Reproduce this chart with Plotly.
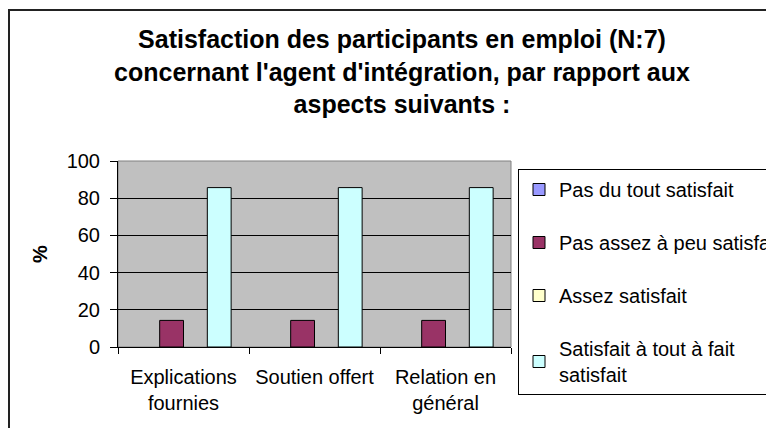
import plotly.graph_objects as go

categories = ["Explications<br>fournies", "Soutien offert", "Relation en<br>général"]
series_names = ["Pas du tout satisfait", "Pas assez à peu satisfait", "Assez satisfait",
                "Satisfait à tout à fait<br>satisfait"]
pas_du_tout = [None, None, None]
pas_assez = [14.3, 14.3, 14.3]
assez = [None, None, None]
satisfait = [85.7, 85.7, 85.7]
colors = ["#9999FF", "#993366", "#FFFFCC", "#CCFFFF"]
y_ticks = [0, 20, 40, 60, 80, 100]

FONT = "Liberation Sans, Arial, sans-serif"

# the page body has an 8px margin, so the figure is drawn 8px smaller and offset
OFF = 8
W, H = 774 - OFF, 428 - OFF

fig = go.Figure()
for i, (name, vals) in enumerate(zip(series_names, [pas_du_tout, pas_assez, assez, satisfait])):
    fig.add_trace(go.Bar(
        x=categories, y=vals, name=name, legendgroup=str(i),
        marker=dict(color=colors[i], line=dict(color="black", width=1)),
    ))

# plot area in screen pixels
sx0, sx1, sy0, sy1 = 118, 511, 161, 347
L, R, T, B = sx0 - OFF, W - (sx1 - OFF), sy0 - OFF, H - (sy1 - OFF)
pw = sx1 - sx0
ph = sy1 - sy0

def px(x):
    return (x - sx0) / pw

def py(y):
    return (sy1 - y) / ph

fig.update_layout(
    width=W, height=H,
    margin=dict(l=L, r=R, t=T, b=B, autoexpand=False),
    paper_bgcolor="white", plot_bgcolor="#C0C0C0",
    font=dict(family=FONT, size=20, color="black"),
    barmode="group", bargap=0.2727, bargroupgap=0,
    title=dict(
        text="<b>Satisfaction des participants en emploi (N:7)<br>concernant l'agent d'intégration, par rapport aux<br>aspects suivants :</b>",
        x=(402 - OFF) / W, xanchor="center", y=1 - (48 - OFF) / H, yanchor="middle", yref="container",
        font=dict(family=FONT, size=25, color="black"),
    ),
    showlegend=True,
    legend=dict(
        x=px(518), xanchor="left", y=py(169), yanchor="top",
        bordercolor="black", borderwidth=1, bgcolor="white",
        font=dict(family=FONT, size=20, color="black"),
        tracegroupgap=24, traceorder="grouped", maxheight=1000,
    ),
    xaxis=dict(
        showline=True, linecolor="black", linewidth=1,
        ticks="outside", tickson="boundaries", ticklen=6, tickcolor="black",
        showgrid=False, tickfont=dict(family=FONT, size=20),
        ticklabelstandoff=12,
    ),
    yaxis=dict(
        range=[0, 100], tickvals=y_ticks,
        showline=True, linecolor="black", linewidth=1,
        ticks="outside", ticklen=7, tickcolor="black",
        showgrid=True, gridcolor="black", gridwidth=1,
        zeroline=False, tickfont=dict(family=FONT, size=20),
        ticklabelstandoff=6,
        title=dict(text="<b>%</b>", standoff=13, font=dict(family=FONT, size=20)),
    ),
    shapes=[
        dict(type="rect", xref="paper", yref="paper", x0=0, x1=1, y0=0, y1=1,
             line=dict(color="#808080", width=1), layer="below"),
        dict(type="rect", xref="paper", yref="paper", x0=px(9), x1=px(800), y0=py(10), y1=py(440),
             line=dict(color="#222222", width=2)),
    ],
)

fig.write_html("out.html")
